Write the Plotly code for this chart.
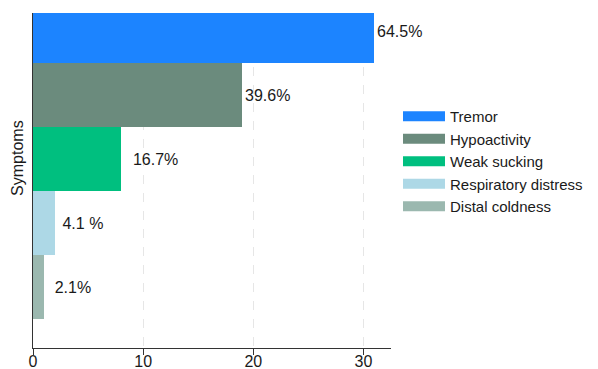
import plotly.graph_objects as go

symptoms = ["Tremor", "Hypoactivity", "Weak sucking", "Respiratory distress", "Distal coldness"]
counts = [31, 19, 8, 2, 1]
labels = ["64.5%", "39.6%", "  16.7%", " 4.1 %", " \u20092.1%"]
positions = [4, 3, 2, 1, 0]
colors = ["#1C84FF", "#6B8B7D", "#00BF7F", "#ADD8E6", "#9BB8AF"]
x_ticks = [0, 10, 20, 30]

FONT = "Liberation Sans, Arial, sans-serif"

fig = go.Figure()
for name, c, lab, pos, col in zip(symptoms, counts, labels, positions, colors):
    fig.add_trace(go.Bar(
        x=[c], y=[pos], orientation="h", width=1,
        marker=dict(color=col, line=dict(width=0)),
        text=[lab], textposition="outside", cliponaxis=False,
        textfont=dict(size=16, color="#1a1a1a", family=FONT),
        showlegend=False, hoverinfo="skip",
    ))
    fig.add_trace(go.Scatter(
        x=[None], y=[None], mode="lines", name=name,
        line=dict(color=col, width=15),
    ))

fig.update_layout(
    width=598, height=369,
    margin=dict(l=33, r=207, t=13, b=21),
    paper_bgcolor="white", plot_bgcolor="white",
    barmode="overlay", bargap=0,
    font=dict(family=FONT, size=16, color="#1a1a1a"),
    showlegend=True,
    legend=dict(xref="container", yref="container",
                x=398 / 598, y=1 - 100 / 369, xanchor="left", yanchor="top",
                font=dict(size=15, family=FONT, color="#1a1a1a"),
                itemwidth=42, tracegroupgap=0, bgcolor="rgba(0,0,0,0)"),
    xaxis=dict(range=[0, 32.5], tickvals=x_ticks, showline=True,
               linecolor="#333333", linewidth=1, ticks="outside", ticklen=6,
               tickcolor="#333333", showgrid=True, gridcolor="#e6e6e6",
               griddash="dash", gridwidth=1, zeroline=False, automargin=False,
               ticklabelstandoff=-7,
               tickfont=dict(size=16, color="#1a1a1a")),
    yaxis=dict(range=[-0.953, 4.28], showticklabels=False, showline=True,
               linecolor="#333333", linewidth=1, showgrid=False, zeroline=False,
               ticks="", automargin=False),
    annotations=[dict(text="Symptoms", xref="paper", yref="paper",
                      x=-0.045, y=0.567, xanchor="center", yanchor="middle",
                      textangle=-90, showarrow=False,
                      font=dict(size=16, family=FONT, color="#1a1a1a"))],
)

fig.write_html("out.html", post_script="document.body.style.margin='0';",
               config={"displayModeBar": False})
